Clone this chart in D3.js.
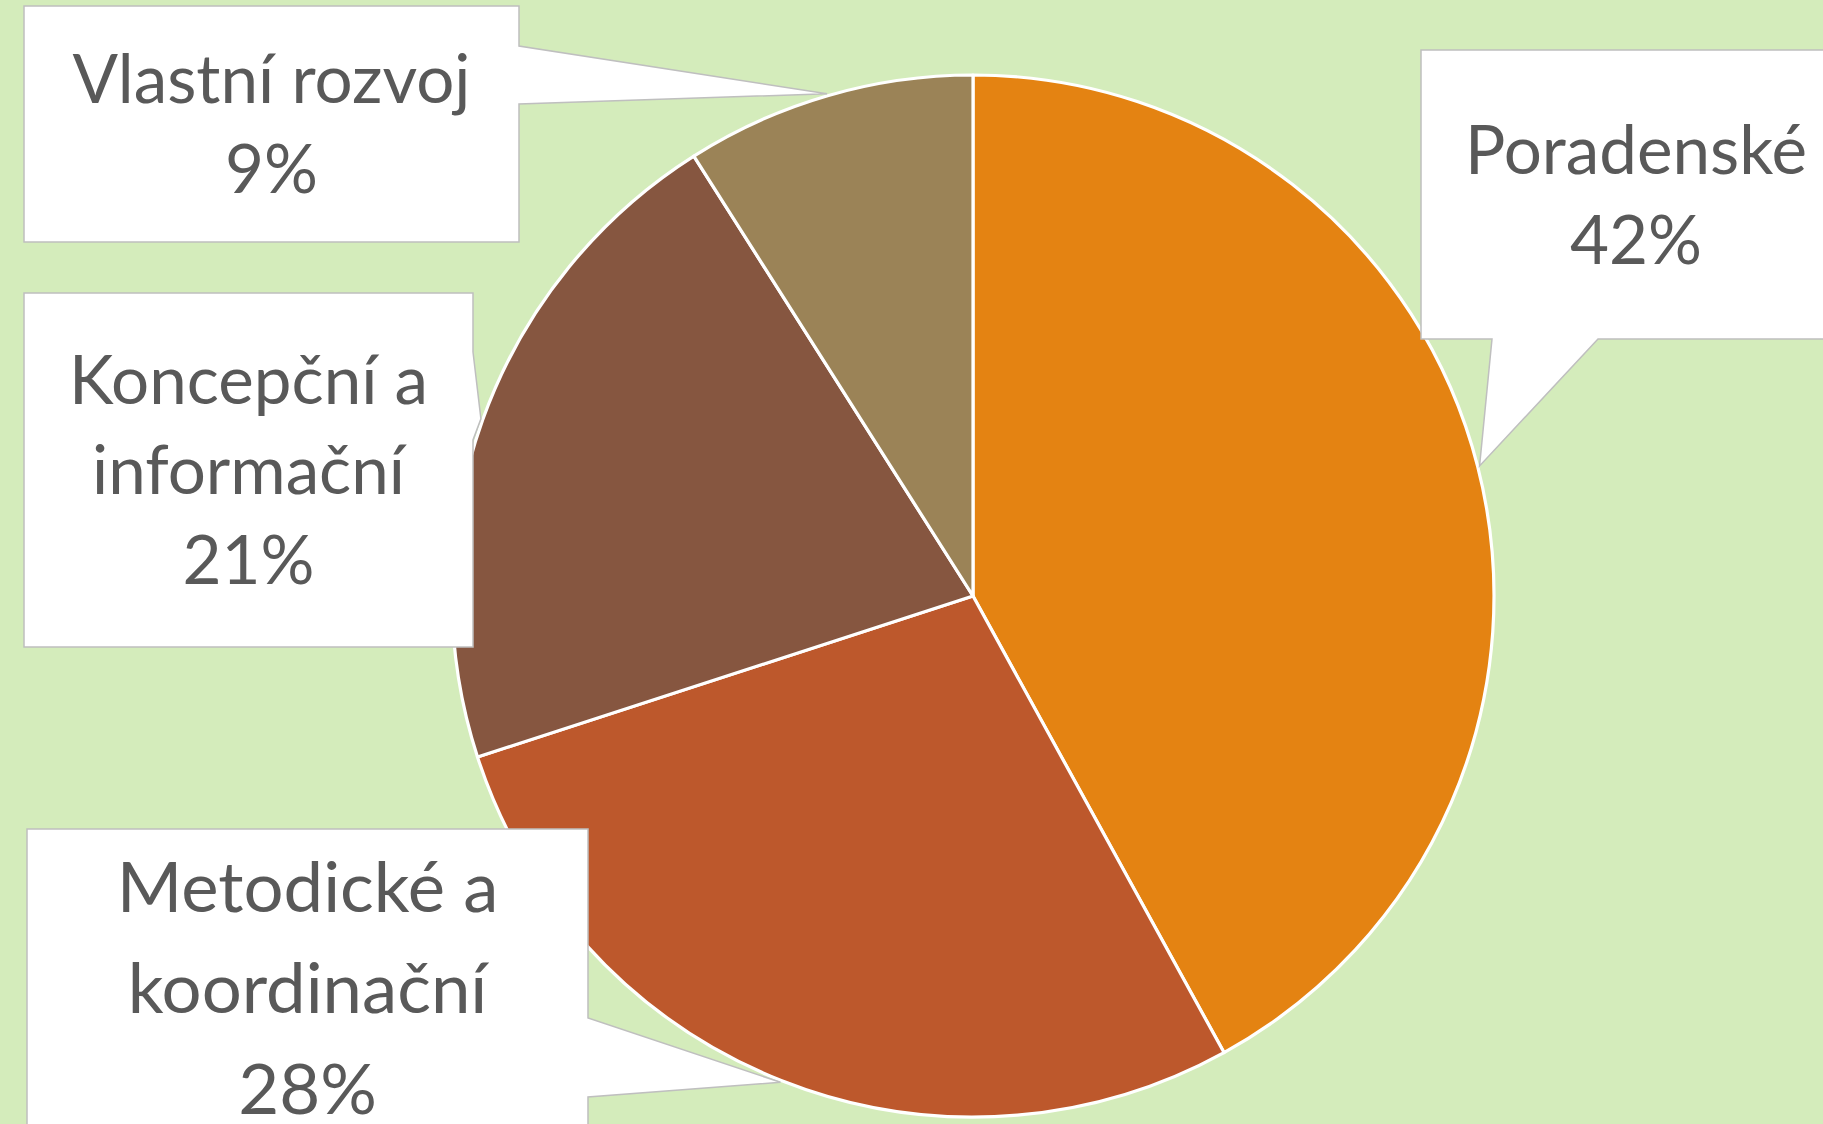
<!DOCTYPE html>
<html>
<head>
<meta charset="utf-8">
<script src="https://cdn.jsdelivr.net/npm/d3@7"></script>
<style>
  html, body { margin: 0; padding: 0; background: #D4ECBB; }
  svg { display: block; }
</style>
</head>
<body>
<svg id="chart" width="1823" height="1124"></svg>
<script>
// ---- data ----
const categories = ["Poradenské", "Metodické a koordinační", "Koncepční a informační", "Vlastní rozvoj"];
const values = [42, 28, 21, 9];
const labelLines = [["Poradenské"], ["Metodické a", "koordinační"], ["Koncepční a", "informační"], ["Vlastní rozvoj"]];
const colors = ["#E48312", "#BD582C", "#865640", "#9B8357"];

// ---- layout ----
const W = 1823, H = 1124;
const cx = 973, cy = 596, R = 521;
const callouts = [
  { box: [1421, 50, 1851, 339], side: "bottom", base: [1492, 1598], scale: 1.0, lh: 90 },
  { box: [27, 829, 588, 1160], side: "right", base: [1018, 1097], scale: 1.05, lh: 101 },
  { box: [24, 293, 473, 647], side: "right", base: [352, 440], scale: 1.0, lh: 90 },
  { box: [24, 6, 519, 242], side: "right", base: [46, 104], scale: 1.0, lh: 90 }
];

const svg = d3.select("#chart");
svg.append("rect").attr("width", W).attr("height", H).attr("fill", "#D4ECBB");

const pie = d3.pie().sort(null).value(d => d)(values);
const arc = d3.arc().innerRadius(0).outerRadius(R);
const tipArc = d3.arc().innerRadius(R + 2).outerRadius(R + 2);

const g = svg.append("g").attr("transform", `translate(${cx},${cy})`);
g.selectAll("path.slice").data(pie).join("path")
  .attr("class", "slice")
  .attr("d", arc)
  .attr("fill", (d, i) => colors[i])
  .attr("stroke", "#FFFFFF")
  .attr("stroke-width", 3.2)
  .attr("stroke-linejoin", "round");

const fontFamily = "Lato, 'Open Sans', sans-serif";
const probe = svg.append("text").attr("font-family", fontFamily).attr("font-size", 100).text("Poradenské");
const probeW = probe.node().getComputedTextLength();
probe.remove();
const baseFont = 100 * 342 / probeW;

const cg = svg.append("g");
pie.forEach((d, i) => {
  const c = callouts[i];
  const [tx, ty] = tipArc.centroid(d);
  const tip = [tx + cx, ty + cy];
  const [x0, y0, x1, y1] = c.box;
  let pts;
  if (c.side === "right") {
    pts = [[x0, y0], [x1, y0], [x1, c.base[0]], tip, [x1, c.base[1]], [x1, y1], [x0, y1]];
  } else {
    pts = [[x0, y0], [x1, y0], [x1, y1], [c.base[1], y1], tip, [c.base[0], y1], [x0, y1]];
  }
  cg.append("path")
    .attr("d", d3.line()(pts) + "Z")
    .attr("fill", "#FFFFFF")
    .attr("stroke", "#BFBFBF")
    .attr("stroke-width", 1.5)
    .attr("stroke-linejoin", "miter");

  const lines = labelLines[i].concat([values[i] + "%"]);
  const fs = baseFont * c.scale;
  const capH = fs * 0.72;
  const boxCx = (x0 + x1) / 2;
  const blockH = capH + (lines.length - 1) * c.lh;
  let b0;
  if (i === 1) b0 = 912; else b0 = (y0 + y1) / 2 - blockH / 2 + capH;
  const t = cg.append("text")
    .attr("font-family", fontFamily)
    .attr("font-size", fs)
    .attr("fill", "#595959")
    .attr("text-anchor", "middle");
  lines.forEach((ln, k) => {
    t.append("tspan").attr("x", boxCx).attr("y", b0 + k * c.lh).text(ln);
  });
});
</script>
</body>
</html>
